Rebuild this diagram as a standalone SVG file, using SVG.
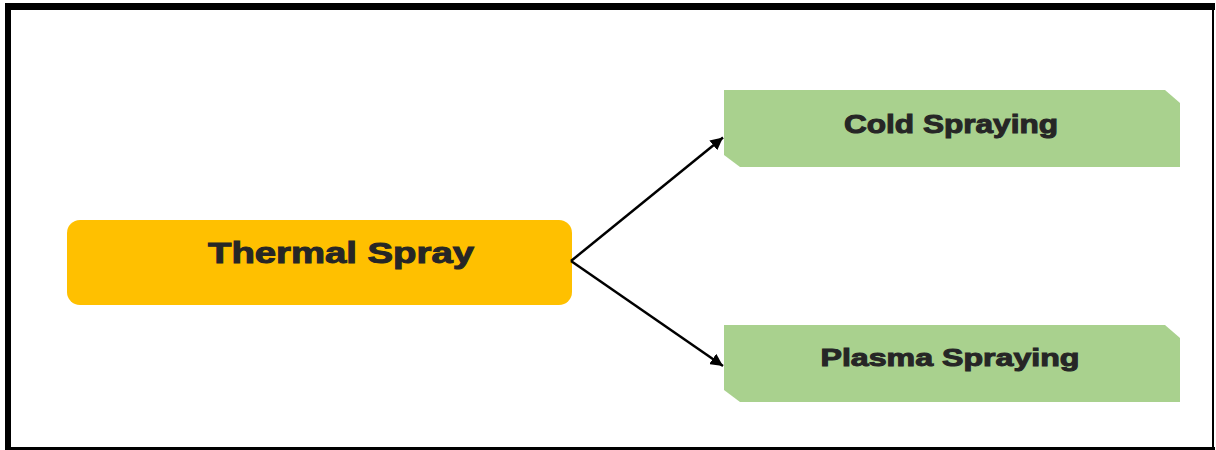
<svg xmlns="http://www.w3.org/2000/svg" width="1216" height="450" viewBox="0 0 1216 450">
<defs>
<style>
.lbl{font-family:"Liberation Sans",Arial,sans-serif;font-weight:bold;fill:#262626;stroke:#262626;stroke-width:1;text-anchor:middle}
.green{fill:#A9D18E}
.conn{stroke:#000;stroke-width:2.5;fill:none}
</style>
<marker id="ah" viewBox="0 0 10 10" refX="10" refY="5" markerWidth="5" markerHeight="5" orient="auto" markerUnits="strokeWidth">
<path d="M0,0 L10,5 L0,10 z" fill="#000"/>
</marker>
</defs>
<rect width="1216" height="450" fill="#fff"/>
<g id="frame" fill="#000">
<rect x="5" y="3" width="1210" height="7"/>
<rect x="5" y="3" width="6" height="447"/>
<rect x="1212" y="3" width="2" height="447"/>
<rect x="5" y="447" width="1210" height="3"/>
</g>
<g id="thermal">
<rect x="67" y="220" width="505" height="85" rx="13" fill="#FFC000"/>
<text class="lbl" x="341" y="263" font-size="29" textLength="266" lengthAdjust="spacingAndGlyphs">Thermal Spray</text>
</g>
<g id="cold">
<path class="green" d="M724,90 L1165,90 L1180,103 L1180,167 L740,167 L724,155 Z"/>
<text class="lbl" x="951" y="132.5" font-size="25" textLength="214" lengthAdjust="spacingAndGlyphs">Cold Spraying</text>
</g>
<g id="plasma">
<path class="green" d="M724,325 L1165,325 L1180,338 L1180,402 L740,402 L724,390 Z"/>
<text class="lbl" x="950" y="366" font-size="24" textLength="259" lengthAdjust="spacingAndGlyphs">Plasma Spraying</text>
</g>
<g id="connectors">
<path class="conn" d="M571,261 L723,137.5" marker-end="url(#ah)"/>
<path class="conn" d="M571,261 L723,366" marker-end="url(#ah)"/>
</g>
</svg>
